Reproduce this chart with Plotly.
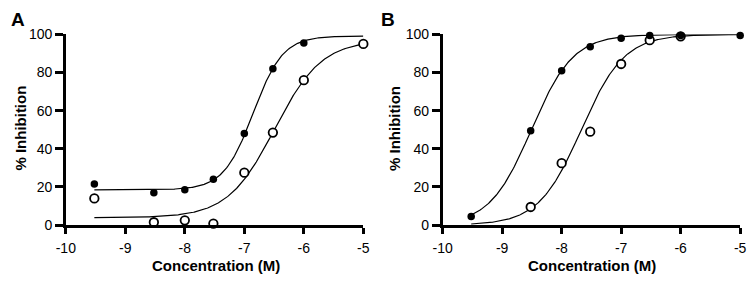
import numpy as np
import plotly.graph_objects as go

# log10 concentration (M)
log_conc = [-9.52, -8.52, -8.0, -7.52, -7.0, -6.52, -6.0, -5.0]

# Panel A
a_filled = [21.5, 17.0, 18.5, 24.0, 48.0, 82.0, 95.5, None]
a_open = [14.0, 1.5, 2.5, 0.8, 27.5, 48.5, 76.0, 95.0]
# Panel B
b_filled = [4.5, 49.5, 81.0, 93.5, 98.0, 99.5, 99.5, 99.5]
b_open = [None, 9.5, 32.5, 49.0, 84.5, 97.0, 99.0, None]

# fitted 4-parameter logistic curves: bottom, top, logIC50, hill
fit_a_filled = (18.5, 99.2, -6.85, 1.74)
fit_a_open = (3.9, 97.0, -6.49, 1.10)
fit_b_filled = (0.0, 100.0, -8.51, 1.24)
fit_b_open = (0.0, 100.0, -7.67, 1.21)

x_ticks = [-10, -9, -8, -7, -6, -5]
y_ticks = [0, 20, 40, 60, 80, 100]


def curve(p, x0=-9.52, x1=-5.0):
    b, t, ic, h = p
    xs = np.linspace(x0, x1, 300)
    return xs, b + (t - b) / (1 + 10 ** ((ic - xs) * h))


fig = go.Figure()
FONT = "Liberation Sans, Arial, sans-serif"

panels = [
    ("x", "y", a_filled, a_open, fit_a_filled, fit_a_open),
    ("x2", "y2", b_filled, b_open, fit_b_filled, fit_b_open),
]
for xa, ya, fil, opn, pf, po in panels:
    for p in (pf, po):
        xs, ys = curve(p)
        fig.add_trace(go.Scatter(x=xs, y=ys, mode="lines", xaxis=xa, yaxis=ya,
                                 line=dict(color="black", width=1.2),
                                 showlegend=False, hoverinfo="skip", cliponaxis=False))
    fig.add_trace(go.Scatter(x=log_conc, y=opn, mode="markers", xaxis=xa, yaxis=ya,
                             marker=dict(size=8.5, color="white", symbol="circle",
                                         line=dict(color="black", width=1.8)),
                             showlegend=False, cliponaxis=False))
    fig.add_trace(go.Scatter(x=log_conc, y=fil, mode="markers", xaxis=xa, yaxis=ya,
                             marker=dict(size=7.5, color="black", symbol="circle",
                                         line=dict(color="black", width=0)),
                             showlegend=False, cliponaxis=False))

W, H = 754, 285
common_x = dict(range=[-10, -5], tickvals=x_ticks, ticktext=[str(v) for v in x_ticks],
                showline=True, linecolor="black", linewidth=2.5, ticks="outside",
                ticklen=6, tickwidth=2.5, tickcolor="black", showgrid=False, zeroline=False,
                ticklabeloverflow="allow", ticklabelstandoff=2,
                tickfont=dict(family=FONT, size=14, color="black"))
common_y = dict(range=[0, 100], tickvals=y_ticks,
                showline=True, linecolor="black", linewidth=2.5, ticks="outside",
                ticklen=8, tickwidth=2.5, tickcolor="black", showgrid=False, zeroline=False,
                ticklabeloverflow="allow",
                tickfont=dict(family=FONT, size=14, color="black"))

ydom = [(H - 230) / H, (H - 28) / H]
fig.update_layout(
    width=W, height=H, margin=dict(l=0, r=0, t=0, b=0),
    paper_bgcolor="white", plot_bgcolor="white",
    xaxis=dict(domain=[57 / W, 361 / W], anchor="y", **common_x),
    yaxis=dict(domain=ydom, anchor="x", **common_y),
    xaxis2=dict(domain=[442 / W, 746 / W], anchor="y2", **common_x),
    yaxis2=dict(domain=ydom, anchor="x2", **common_y),
)

ann = []
for letter, lx, xc, yc in [("A", 0, 210, 10.5), ("B", 378, 595, 393)]:
    ann.append(dict(text=f"<b>{letter}</b>", x=lx / W, y=1 - 0 / H, xref="paper", yref="paper",
                    xanchor="left", yanchor="top", showarrow=False, borderpad=0,
                    font=dict(family=FONT, size=19, color="black")))
    ann.append(dict(text="<b>Concentration (M)</b>", x=xc / W, y=1 - 273 / H, xref="paper",
                    yref="paper", xanchor="center", yanchor="middle", showarrow=False,
                    borderpad=0,
                    font=dict(family=FONT, size=15, color="black")))
    ann.append(dict(text="<b>% Inhibition</b>", x=yc / W, y=1 - 127.5 / H, xref="paper",
                    yref="paper", xanchor="center", yanchor="middle", showarrow=False,
                    textangle=-90, font=dict(family=FONT, size=15, color="black")))
fig.update_layout(annotations=ann)

fig.write_html("out.html", config={"displayModeBar": False},
               post_script="document.body.style.margin='0px';document.documentElement.style.margin='0px';")
